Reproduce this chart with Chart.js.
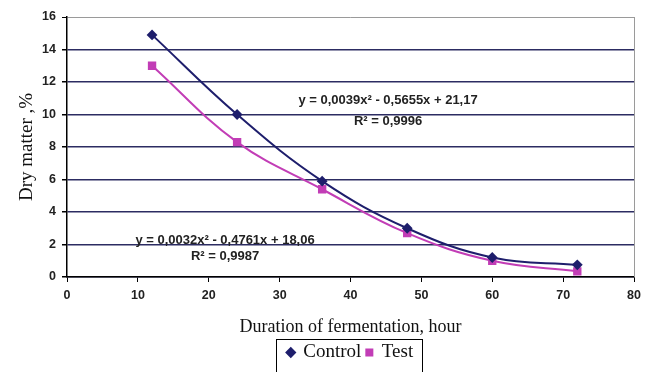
<!DOCTYPE html>
<html>
<head>
<meta charset="utf-8">
<script src="https://cdn.jsdelivr.net/npm/chart.js@4/dist/chart.umd.min.js"></script>
<style>
  html, body { margin: 0; padding: 0; background: #fff; }
  #wrap { width: 654px; height: 372px; }
</style>
</head>
<body>
<div id="wrap"><canvas id="c" width="654" height="372"></canvas></div>
<script>
// Dry matter vs fermentation time
const HOURS = [12, 24, 36, 48, 60, 72];
const CONTROL = [14.9, 10.0, 5.9, 3.0, 1.2, 0.75];
const TEST = [13.0, 8.3, 5.4, 2.7, 1.0, 0.35];
const X_TICKS = [0, 10, 20, 30, 40, 50, 60, 70, 80];
const Y_TICKS = [0, 2, 4, 6, 8, 10, 12, 14, 16];

const NAVY = '#1e1e6c';
const MAGENTA = '#c23db6';
const GRID = '#2c2c62';
const SERIF = "'Liberation Serif', 'DejaVu Serif', serif";
const SANS = "'Liberation Sans', Arial, sans-serif";

// equation labels, anchored in data coordinates
const LABELS = [
  { x: 45.3, y: 10.85, text: 'y = 0,0039x² - 0,5655x + 21,17' },
  { x: 45.3, y: 9.6, text: 'R² = 0,9996' },
  { x: 22.3, y: 2.25, text: 'y = 0,0032x² - 0,4761x + 18,06' },
  { x: 22.3, y: 1.25, text: 'R² = 0,9987' }
];

const pts = (ys) => HOURS.map((h, i) => ({ x: h, y: ys[i] }));

const extras = {
  id: 'extras',
  afterDraw(chart) {
    const { ctx, chartArea: a, scales: { x, y } } = chart;
    ctx.save();
    // right border of plot area
    ctx.strokeStyle = '#9a9a9a';
    ctx.lineWidth = 1;
    ctx.beginPath();
    ctx.moveTo(a.right + 0.5, a.top);
    ctx.lineTo(a.right + 0.5, a.bottom);
    ctx.stroke();
    // equations
    ctx.fillStyle = '#222';
    ctx.font = 'bold 13px ' + SANS;
    ctx.textAlign = 'center';
    ctx.textBaseline = 'middle';
    LABELS.forEach(l => ctx.fillText(l.text, x.getPixelForValue(l.x), y.getPixelForValue(l.y)));
    // legend frame
    const lg = chart.legend;
    if (lg && lg.legendHitBoxes.length) {
      const boxes = lg.legendHitBoxes;
      const l = boxes[0].left - 12;
      const r = boxes[boxes.length - 1].left + boxes[boxes.length - 1].width + 9;
      ctx.strokeStyle = '#000';
      ctx.lineWidth = 1;
      ctx.strokeRect(Math.round(l) + 0.5, Math.round(boxes[0].top) - 3.5, Math.round(r - l), 40);
    }
    ctx.restore();
  }
};

new Chart(document.getElementById('c'), {
  type: 'line',
  data: {
    datasets: [
      {
        label: 'Control',
        data: pts(CONTROL),
        borderColor: NAVY,
        backgroundColor: NAVY,
        borderWidth: 2,
        pointStyle: 'rectRot',
        pointRadius: 4,
        tension: 0.4
      },
      {
        label: 'Test',
        data: pts(TEST),
        borderColor: MAGENTA,
        backgroundColor: MAGENTA,
        borderWidth: 2,
        pointStyle: 'rect',
        pointRadius: 4.5,
        tension: 0.4
      }
    ]
  },
  options: {
    responsive: false,
    animation: false,
    layout: { padding: { top: 17, right: 20, left: 0, bottom: 0 } },
    plugins: {
      tooltip: { enabled: false },
      legend: {
        position: 'bottom',
        fullSize: false,
        labels: {
          color: '#111',
          font: { family: SERIF, size: 19 },
          usePointStyle: true,
          boxWidth: 6,
          boxHeight: 6,
          padding: 5
        }
      }
    },
    scales: {
      x: {
        type: 'linear',
        min: 0,
        max: 80,
        afterBuildTicks: s => { s.ticks = X_TICKS.map(v => ({ value: v })); },
        afterFit: s => { s.height = 61; },
        ticks: { color: '#222', font: { family: SANS, size: 12.5, weight: 'bold' }, padding: 6 },
        grid: { drawOnChartArea: false, drawTicks: true, tickLength: 5, color: '#000' },
        border: { color: '#000', width: 1.5 },
        title: {
          display: true,
          text: 'Duration of fermentation, hour',
          color: '#111',
          font: { family: SERIF, size: 18 },
          padding: { top: 4, bottom: 0 }
        }
      },
      y: {
        min: 0,
        max: 16,
        afterBuildTicks: s => { s.ticks = Y_TICKS.map(v => ({ value: v })); },
        afterFit: s => { s.width = 67; },
        ticks: { color: '#222', font: { family: SANS, size: 12.5, weight: 'bold' }, padding: 6 },
        grid: {
          color: c => (c.tick && c.tick.value === 16 ? '#9a9a9a' : GRID),
          lineWidth: c => (c.tick && c.tick.value === 16 ? 1 : 1.5),
          tickColor: '#000',
          tickLength: 5
        },
        border: { color: '#000', width: 1.5 },
        title: {
          display: true,
          text: 'Dry matter ,%',
          color: '#111',
          font: { family: SERIF, size: 19 },
          padding: { top: 16, bottom: 4 }
        }
      }
    }
  },
  plugins: [extras]
});
</script>
</body>
</html>
